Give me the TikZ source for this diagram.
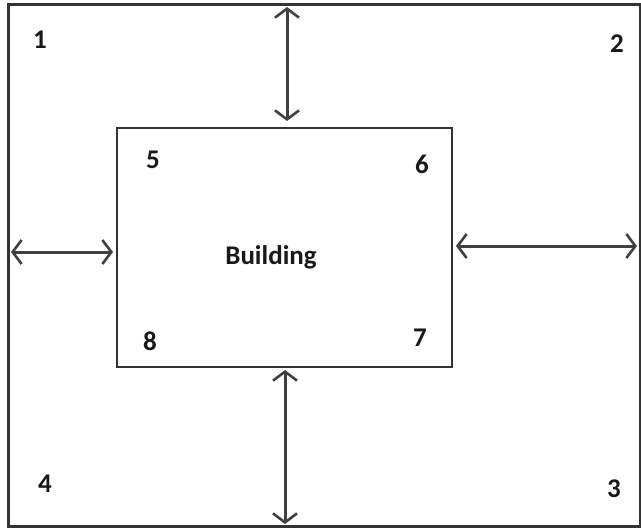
\documentclass[tikz,border=0pt]{standalone}
\usepackage{fontspec}
\setmainfont{Carlito}[BoldFont={* Bold}]
\usetikzlibrary{arrows.meta}
\begin{document}
\begin{tikzpicture}[x=1pt,y=-1pt,
  wall/.style={draw=black!80, line width=2.8pt},
  flow/.style={draw=black!75, line width=3pt, {Straight Barb[length=9pt,width=24pt,line width=2.6pt]}-{Straight Barb[length=9pt,width=24pt,line width=2.6pt]}},
  lbl/.style={font=\bfseries\fontsize{27}{31}\selectfont, text=black!90, inner sep=0pt}]
\useasboundingbox (0,0) rectangle (641,531);
\fill[white] (0,0) rectangle (641,531);
\node[wall, minimum width=632pt, minimum height=522pt, inner sep=0pt] (site) at (324.5,265.5) {};
\node[wall, minimum width=335pt, minimum height=239pt, inner sep=0pt] (bld) at (284.5,247.5) {};
\node[lbl] (bname) at (271,257) {Building};
\node[lbl] (n1) at (40,40) {1};
\node[lbl] (n2) at (617,44) {2};
\node[lbl] (n3) at (614,489) {3};
\node[lbl] (n4) at (45,484) {4};
\node[lbl] (n5) at (153,160) {5};
\node[lbl] (n6) at (422,164) {6};
\node[lbl] (n7) at (420,338) {7};
\node[lbl] (n8) at (150,341) {8};
\coordinate (tA) at (287,7);
\coordinate (tB) at (287,121);
\coordinate (lA) at (11,252);
\coordinate (lB) at (113,252);
\coordinate (rA) at (456,246);
\coordinate (rB) at (637,246);
\coordinate (bA) at (285,370);
\coordinate (bB) at (285,524);
\draw[flow] (tA) -- (tB);
\draw[flow] (lA) -- (lB);
\draw[flow] (rA) -- (rB);
\draw[flow] (bA) -- (bB);
\end{tikzpicture}
\end{document}
